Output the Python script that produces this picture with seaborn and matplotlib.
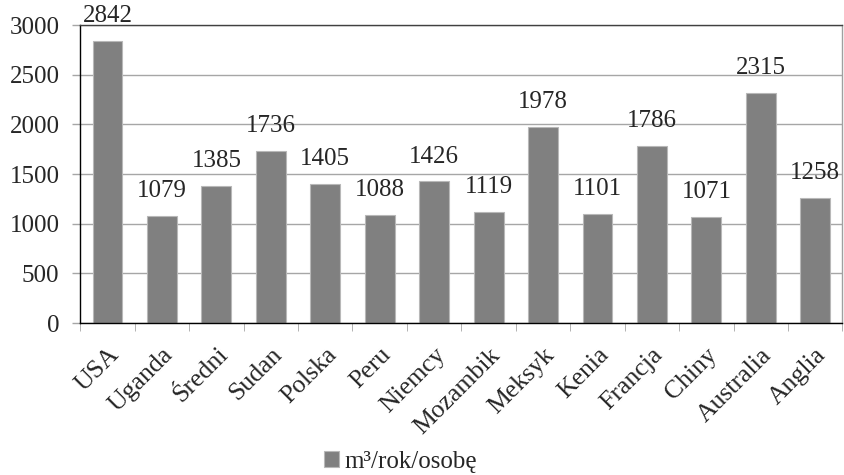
import numpy as np
import pandas as pd
import seaborn as sns
import matplotlib.pyplot as plt

kraje = ["USA", "Uganda", "Średni", "Sudan", "Polska", "Peru", "Niemcy",
         "Mozambik", "Meksyk", "Kenia", "Francja", "Chiny", "Australia", "Anglia"]
wartosci = [2842, 1079, 1385, 1736, 1405, 1088, 1426,
            1119, 1978, 1101, 1786, 1071, 2315, 1258]
seria = "m³/rok/osobę"

sns.set_style("white")
plt.rcParams['font.family'] = ['Liberation Serif', 'DejaVu Serif']

df = pd.DataFrame({"kraj": kraje, "woda": wartosci})

fig = plt.figure(figsize=(8.45, 4.75), dpi=100)
ax = fig.add_axes([0.095, 0.32, 0.902, 0.627])
sns.barplot(data=df, x="kraj", y="woda", color="#808080", width=0.55,
            saturation=1, edgecolor="#b8b8b8", linewidth=0.8,
            ax=ax, label=seria)

ax.set_ylim(0, 3000)
ax.set_yticks(np.arange(0, 3001, 500))
ax.set_xlim(-0.5, len(kraje) - 0.5)
ax.yaxis.grid(True, color="#a6a6a6", lw=1)
ax.set_axisbelow(True)
ax.set_xlabel("")
ax.set_ylabel("")

for s in ax.spines.values():
    s.set_linewidth(1)
ax.spines["left"].set_color("black")
ax.spines["bottom"].set_color("black")
ax.spines["top"].set_color("#404040")
ax.spines["right"].set_color("#a0a0a0")

ax.tick_params(axis="y", labelsize=18, length=6, width=1, color="#a6a6a6", left=True, pad=9)
ax.set_xticks(np.arange(len(kraje)))
ax.set_xticklabels(kraje, rotation=45, ha="right", rotation_mode="anchor", fontsize=18.5)
ax.tick_params(axis="x", which="major", length=0, pad=15)
ax.set_xticks(np.arange(len(kraje) + 1) - 0.5, minor=True)
ax.tick_params(axis="x", which="minor", length=6, color="#a6a6a6", bottom=True)

ax.bar_label(ax.containers[0], fontsize=18, padding=10)

ax.legend(loc="upper center", bbox_to_anchor=(0.42, -0.355), frameon=False,
          fontsize=18, handlelength=0.6, handleheight=0.6, handletextpad=0.2)

fig.savefig("out.png", dpi=100)
